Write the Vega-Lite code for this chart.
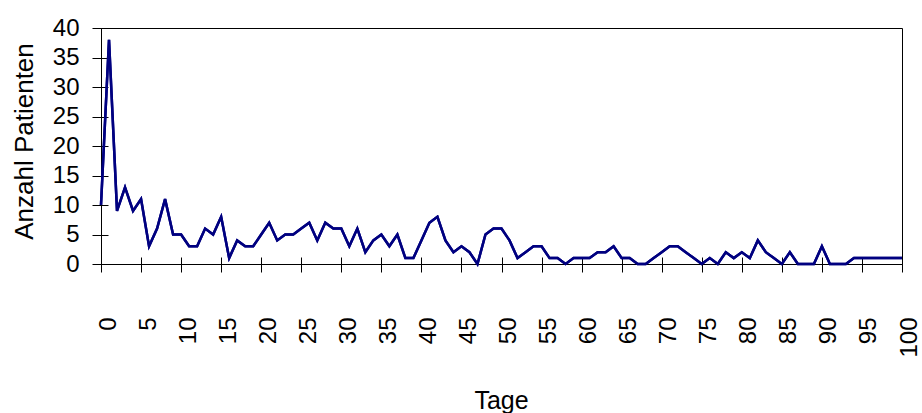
{
  "$schema": "https://vega.github.io/schema/vega-lite/v6.json",
  "autosize": "none",
  "width": 801,
  "height": 236,
  "padding": {"left": 101, "top": 28, "right": 20, "bottom": 149},
  "background": "white",
  "config": {
    "view": {"stroke": "black", "strokeWidth": 1},
    "font": "Liberation Sans",
    "axis": {
      "labelFont": "Liberation Sans",
      "titleFont": "Liberation Sans",
      "labelColor": "black",
      "titleColor": "black",
      "domainColor": "black",
      "tickColor": "black",
      "labelFontWeight": "normal",
      "titleFontWeight": "normal",
      "grid": false
    }
  },
  "data": {
    "values": [
      {"Tag": 0, "Anzahl": 10}, {"Tag": 1, "Anzahl": 38}, {"Tag": 2, "Anzahl": 9}, {"Tag": 3, "Anzahl": 13},
      {"Tag": 4, "Anzahl": 9}, {"Tag": 5, "Anzahl": 11}, {"Tag": 6, "Anzahl": 3}, {"Tag": 7, "Anzahl": 6},
      {"Tag": 8, "Anzahl": 11}, {"Tag": 9, "Anzahl": 5}, {"Tag": 10, "Anzahl": 5}, {"Tag": 11, "Anzahl": 3},
      {"Tag": 12, "Anzahl": 3}, {"Tag": 13, "Anzahl": 6}, {"Tag": 14, "Anzahl": 5}, {"Tag": 15, "Anzahl": 8},
      {"Tag": 16, "Anzahl": 1}, {"Tag": 17, "Anzahl": 4}, {"Tag": 18, "Anzahl": 3}, {"Tag": 19, "Anzahl": 3},
      {"Tag": 20, "Anzahl": 5}, {"Tag": 21, "Anzahl": 7}, {"Tag": 22, "Anzahl": 4}, {"Tag": 23, "Anzahl": 5},
      {"Tag": 24, "Anzahl": 5}, {"Tag": 25, "Anzahl": 6}, {"Tag": 26, "Anzahl": 7}, {"Tag": 27, "Anzahl": 4},
      {"Tag": 28, "Anzahl": 7}, {"Tag": 29, "Anzahl": 6}, {"Tag": 30, "Anzahl": 6}, {"Tag": 31, "Anzahl": 3},
      {"Tag": 32, "Anzahl": 6}, {"Tag": 33, "Anzahl": 2}, {"Tag": 34, "Anzahl": 4}, {"Tag": 35, "Anzahl": 5},
      {"Tag": 36, "Anzahl": 3}, {"Tag": 37, "Anzahl": 5}, {"Tag": 38, "Anzahl": 1}, {"Tag": 39, "Anzahl": 1},
      {"Tag": 40, "Anzahl": 4}, {"Tag": 41, "Anzahl": 7}, {"Tag": 42, "Anzahl": 8}, {"Tag": 43, "Anzahl": 4},
      {"Tag": 44, "Anzahl": 2}, {"Tag": 45, "Anzahl": 3}, {"Tag": 46, "Anzahl": 2}, {"Tag": 47, "Anzahl": 0},
      {"Tag": 48, "Anzahl": 5}, {"Tag": 49, "Anzahl": 6}, {"Tag": 50, "Anzahl": 6}, {"Tag": 51, "Anzahl": 4},
      {"Tag": 52, "Anzahl": 1}, {"Tag": 53, "Anzahl": 2}, {"Tag": 54, "Anzahl": 3}, {"Tag": 55, "Anzahl": 3},
      {"Tag": 56, "Anzahl": 1}, {"Tag": 57, "Anzahl": 1}, {"Tag": 58, "Anzahl": 0}, {"Tag": 59, "Anzahl": 1},
      {"Tag": 60, "Anzahl": 1}, {"Tag": 61, "Anzahl": 1}, {"Tag": 62, "Anzahl": 2}, {"Tag": 63, "Anzahl": 2},
      {"Tag": 64, "Anzahl": 3}, {"Tag": 65, "Anzahl": 1}, {"Tag": 66, "Anzahl": 1}, {"Tag": 67, "Anzahl": 0},
      {"Tag": 68, "Anzahl": 0}, {"Tag": 69, "Anzahl": 1}, {"Tag": 70, "Anzahl": 2}, {"Tag": 71, "Anzahl": 3},
      {"Tag": 72, "Anzahl": 3}, {"Tag": 73, "Anzahl": 2}, {"Tag": 74, "Anzahl": 1}, {"Tag": 75, "Anzahl": 0},
      {"Tag": 76, "Anzahl": 1}, {"Tag": 77, "Anzahl": 0}, {"Tag": 78, "Anzahl": 2}, {"Tag": 79, "Anzahl": 1},
      {"Tag": 80, "Anzahl": 2}, {"Tag": 81, "Anzahl": 1}, {"Tag": 82, "Anzahl": 4}, {"Tag": 83, "Anzahl": 2},
      {"Tag": 84, "Anzahl": 1}, {"Tag": 85, "Anzahl": 0}, {"Tag": 86, "Anzahl": 2}, {"Tag": 87, "Anzahl": 0},
      {"Tag": 88, "Anzahl": 0}, {"Tag": 89, "Anzahl": 0}, {"Tag": 90, "Anzahl": 3}, {"Tag": 91, "Anzahl": 0},
      {"Tag": 92, "Anzahl": 0}, {"Tag": 93, "Anzahl": 0}, {"Tag": 94, "Anzahl": 1}, {"Tag": 95, "Anzahl": 1},
      {"Tag": 96, "Anzahl": 1}, {"Tag": 97, "Anzahl": 1}, {"Tag": 98, "Anzahl": 1}, {"Tag": 99, "Anzahl": 1},
      {"Tag": 100, "Anzahl": 1}
    ]
  },
  "layer": [
    {
      "mark": {"type": "line", "color": "#000080", "strokeWidth": 2.5, "clip": false},
      "encoding": {
        "x": {
          "field": "Tag", "type": "quantitative",
          "scale": {"domain": [0, 100], "nice": false, "zero": true},
          "axis": {
            "orient": "bottom",
            "title": "Tage",
            "values": [0, 5, 10, 15, 20, 25, 30, 35, 40, 45, 50, 55, 60, 65, 70, 75, 80, 85, 90, 95, 100],
            "labelAngle": 270,
            "labelAlign": "right",
            "labelBaseline": "middle",
            "labelOffset": 7,
            "labelPadding": 45,
            "labelFontSize": 24,
            "labelOverlap": false,
            "labelBound": false,
            "labelFlush": false,
            "tickSize": 8,
            "titleFontSize": 25,
            "titleAnchor": "middle",
            "titleBaseline": "alphabetic",
            "titleX": 400,
            "titleY": 144
          }
        },
        "y": {
          "field": "Anzahl", "type": "quantitative",
          "scale": {"domain": [0, 40], "nice": false},
          "axis": {
            "orient": "left",
            "title": "Anzahl Patienten",
            "values": [0, 5, 10, 15, 20, 25, 30, 35, 40],
            "labelFontSize": 24,
            "labelPadding": 13,
            "labelBaseline": "middle",
            "labelOverlap": false,
            "labelFlush": false,
            "tickSize": 9,
            "titleFontSize": 26,
            "titleAngle": 270,
            "titleAlign": "center",
            "titleBaseline": "alphabetic",
            "titleX": -69,
            "titleY": 113
          }
        }
      }
    },
    {
      "mark": {"type": "line", "color": "#000080", "strokeWidth": 2.5, "clip": false},
      "encoding": {
        "x": {
          "field": "Tag", "type": "quantitative",
          "axis": {
            "orient": "bottom",
            "title": null,
            "values": [0, 5, 10, 15, 20, 25, 30, 35, 40, 45, 50, 55, 60, 65, 70, 75, 80, 85, 90, 95, 100],
            "labels": false,
            "domain": false,
            "tickSize": -7
          }
        },
        "y": {
          "field": "Anzahl", "type": "quantitative",
          "axis": {
            "orient": "left",
            "title": null,
            "values": [0, 5, 10, 15, 20, 25, 30, 35, 40],
            "labels": false,
            "domain": false,
            "tickSize": -7
          }
        }
      }
    }
  ],
  "resolve": {"axis": {"x": "independent", "y": "independent"}}
}
